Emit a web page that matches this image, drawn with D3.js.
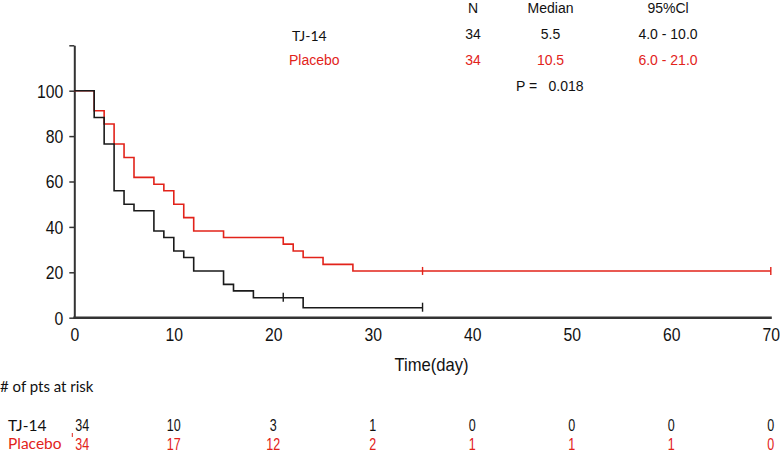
<!DOCTYPE html>
<html>
<head>
<meta charset="utf-8">
<script src="https://cdn.jsdelivr.net/npm/d3@7"></script>
<style>
  html, body { margin: 0; padding: 0; background: #fff; }
  svg { display: block; }
</style>
</head>
<body>
<svg id="chart" width="780" height="452"></svg>
<script>
// ---- data ----
const groups = ["TJ-14", "Placebo"];
const tjTimes = [0, 2, 3, 4, 5, 6, 8, 9, 10, 11, 12, 15, 16, 18, 23, 35];
const tjSurv  = [100, 88.2, 76.5, 55.9, 50.0, 47.1, 38.2, 35.3, 29.4, 26.5, 20.6, 14.7, 11.8, 8.8, 4.4, 4.4];
const tjCensorTimes = [21, 35];
const tjCensorSurv  = [8.8, 4.4];
const plTimes = [0, 2, 3, 4, 5, 6, 8, 9, 10, 11, 12, 15, 21, 22, 23, 25, 28, 70];
const plSurv  = [100, 91.2, 85.3, 76.5, 70.6, 61.8, 58.8, 55.9, 50.0, 44.1, 38.2, 35.3, 32.4, 29.4, 26.5, 23.5, 20.6, 20.6];
const plCensorTimes = [35, 70];
const plCensorSurv  = [20.6, 20.6];
const xTicks = [0, 10, 20, 30, 40, 50, 60, 70];
const yTicks = [0, 20, 40, 60, 80, 100];
const riskTimes = [0, 10, 20, 30, 40, 50, 60, 70];
const riskTJ = [34, 10, 3, 1, 0, 0, 0, 0];
const riskPl = [34, 17, 12, 2, 1, 1, 1, 0];
const tableHeader = ["N", "Median", "95%Cl"];
const tableTJ = ["34", "5.5", "4.0 - 10.0"];
const tablePl = ["34", "10.5", "6.0 - 21.0"];
const pLabel = "P =";
const pValue = "0.018";

// ---- styles ----
const RED = "#e2231a";
const BLACK = "#1a1a1a";
const AXIS = "#333";
const ARIAL = "'Liberation Sans', Arial, sans-serif";
const CALIBRI = "Lato, 'Open Sans', sans-serif";
const TICK_SX = 0.9;   // horizontal squeeze to mimic a narrow face
const RISK_SX = 0.76;

const svg = d3.select("#chart");
const x = d3.scaleLinear().domain([0, 70]).range([74.3, 770.8]);
const y = d3.scaleLinear().domain([0, 120]).range([317.7, 45.3]);

// axes
const yAxis = d3.axisLeft(y).tickValues([...yTicks, 120]).tickSize(5).tickSizeOuter(0)
  .tickFormat(d => d === 120 ? "" : d);
const gy = svg.append("g").attr("transform", `translate(${x(0)},0)`).call(yAxis);
gy.select(".domain").attr("stroke", AXIS).attr("stroke-width", 2);
gy.selectAll(".tick line").attr("stroke", AXIS).attr("stroke-width", 1.5);
gy.selectAll(".tick text").attr("font-family", ARIAL).attr("font-size", 17.5)
  .attr("fill", "#111").attr("x", -11 / TICK_SX).attr("dy", "0.36em")
  .attr("transform", `scale(${TICK_SX},1)`);

const xAxis = d3.axisBottom(x).tickValues(xTicks).tickSize(0).tickSizeOuter(0);
const gx = svg.append("g").attr("transform", `translate(0,${y(0)})`).call(xAxis);
gx.select(".domain").attr("stroke", AXIS).attr("stroke-width", 2.5)
  .attr("d", `M${x(0) - 1},0H${x(70) + 1}`);
gx.selectAll(".tick text").attr("font-family", ARIAL).attr("font-size", 17.5)
  .attr("fill", "#111").attr("y", 11).attr("dy", "0.71em")
  .attr("transform", `scale(${TICK_SX},1)`);

svg.append("text").attr("transform", `translate(431.5,370.5) scale(0.95,1)`)
  .attr("text-anchor", "middle")
  .attr("font-family", ARIAL).attr("font-size", 17.5).attr("fill", "#111").text("Time(day)");

// curves
const line = d3.line().x(d => x(d[0])).y(d => y(d[1])).curve(d3.curveStepAfter);
const plData = d3.zip(plTimes, plSurv);
const tjData = d3.zip(tjTimes, tjSurv);
svg.append("path").datum(plData).attr("d", line).attr("fill", "none")
  .attr("stroke", RED).attr("stroke-width", 1.6);
svg.append("path").datum(tjData).attr("d", line).attr("fill", "none")
  .attr("stroke", BLACK).attr("stroke-width", 1.6);

// censor marks
function censors(times, surv, color, up, down) {
  svg.append("g").selectAll("line").data(d3.zip(times, surv)).join("line")
    .attr("x1", d => x(d[0])).attr("x2", d => x(d[0]))
    .attr("y1", d => y(d[1]) - up).attr("y2", d => y(d[1]) + down)
    .attr("stroke", color).attr("stroke-width", 1.4);
}
censors(tjCensorTimes, tjCensorSurv, BLACK, 5, 4);
censors(plCensorTimes, plCensorSurv, RED, 4, 4);

// header table
const colX = [473, 550.5, 668];
const hdr = svg.append("g").attr("font-family", ARIAL).attr("font-size", 14).attr("text-anchor", "middle");
hdr.selectAll("text.h").data(tableHeader).join("text").attr("class", "h")
  .attr("x", (d, i) => colX[i]).attr("y", 12.5).attr("fill", "#111").text(d => d);
hdr.selectAll("text.t").data(tableTJ).join("text").attr("class", "t")
  .attr("x", (d, i) => colX[i]).attr("y", 38.5).attr("fill", "#111").text(d => d);
hdr.selectAll("text.p").data(tablePl).join("text").attr("class", "p")
  .attr("x", (d, i) => colX[i]).attr("y", 64.5).attr("fill", RED).text(d => d);
svg.append("text").attr("x", 292).attr("y", 41).attr("font-family", CALIBRI).attr("font-size", 14)
  .attr("fill", "#111").text(groups[0]);
svg.append("text").attr("x", 289).attr("y", 65).attr("font-family", ARIAL).attr("font-size", 14)
  .attr("fill", RED).text(groups[1]);
svg.append("text").attr("x", 516).attr("y", 91).attr("font-family", ARIAL).attr("font-size", 14)
  .attr("fill", "#111").text(pLabel);
svg.append("text").attr("x", 548.5).attr("y", 91).attr("font-family", ARIAL).attr("font-size", 14)
  .attr("fill", "#111").text(pValue);

// at-risk table
svg.append("text").attr("x", 0).attr("y", 392).attr("font-family", CALIBRI).attr("font-size", 15)
  .attr("fill", "#111").text("# of pts at risk");
svg.append("text").attr("x", 8).attr("y", 431).attr("font-family", CALIBRI).attr("font-size", 15.5)
  .attr("fill", "#111").text(groups[0]);
svg.append("text").attr("x", 8).attr("y", 449).attr("font-family", CALIBRI).attr("font-size", 15.5)
  .attr("fill", RED).text(groups[1]);
const riskX = t => t === 0 ? x(t) + 8 : x(t);
function riskRow(vals, yPos, color) {
  svg.append("g").selectAll("text").data(d3.zip(riskTimes, vals)).join("text")
    .attr("transform", d => `translate(${riskX(d[0])},${yPos}) scale(${RISK_SX},1)`)
    .attr("text-anchor", "middle")
    .attr("font-family", ARIAL).attr("font-size", 16.5).attr("fill", color).text(d => d[1]);
}
riskRow(riskTJ, 431, "#111");
riskRow(riskPl, 449.5, RED);
svg.append("line").attr("x1", 72.3).attr("x2", 72.3).attr("y1", 433).attr("y2", 437)
  .attr("stroke", RED).attr("stroke-width", 1);
</script>
</body>
</html>
